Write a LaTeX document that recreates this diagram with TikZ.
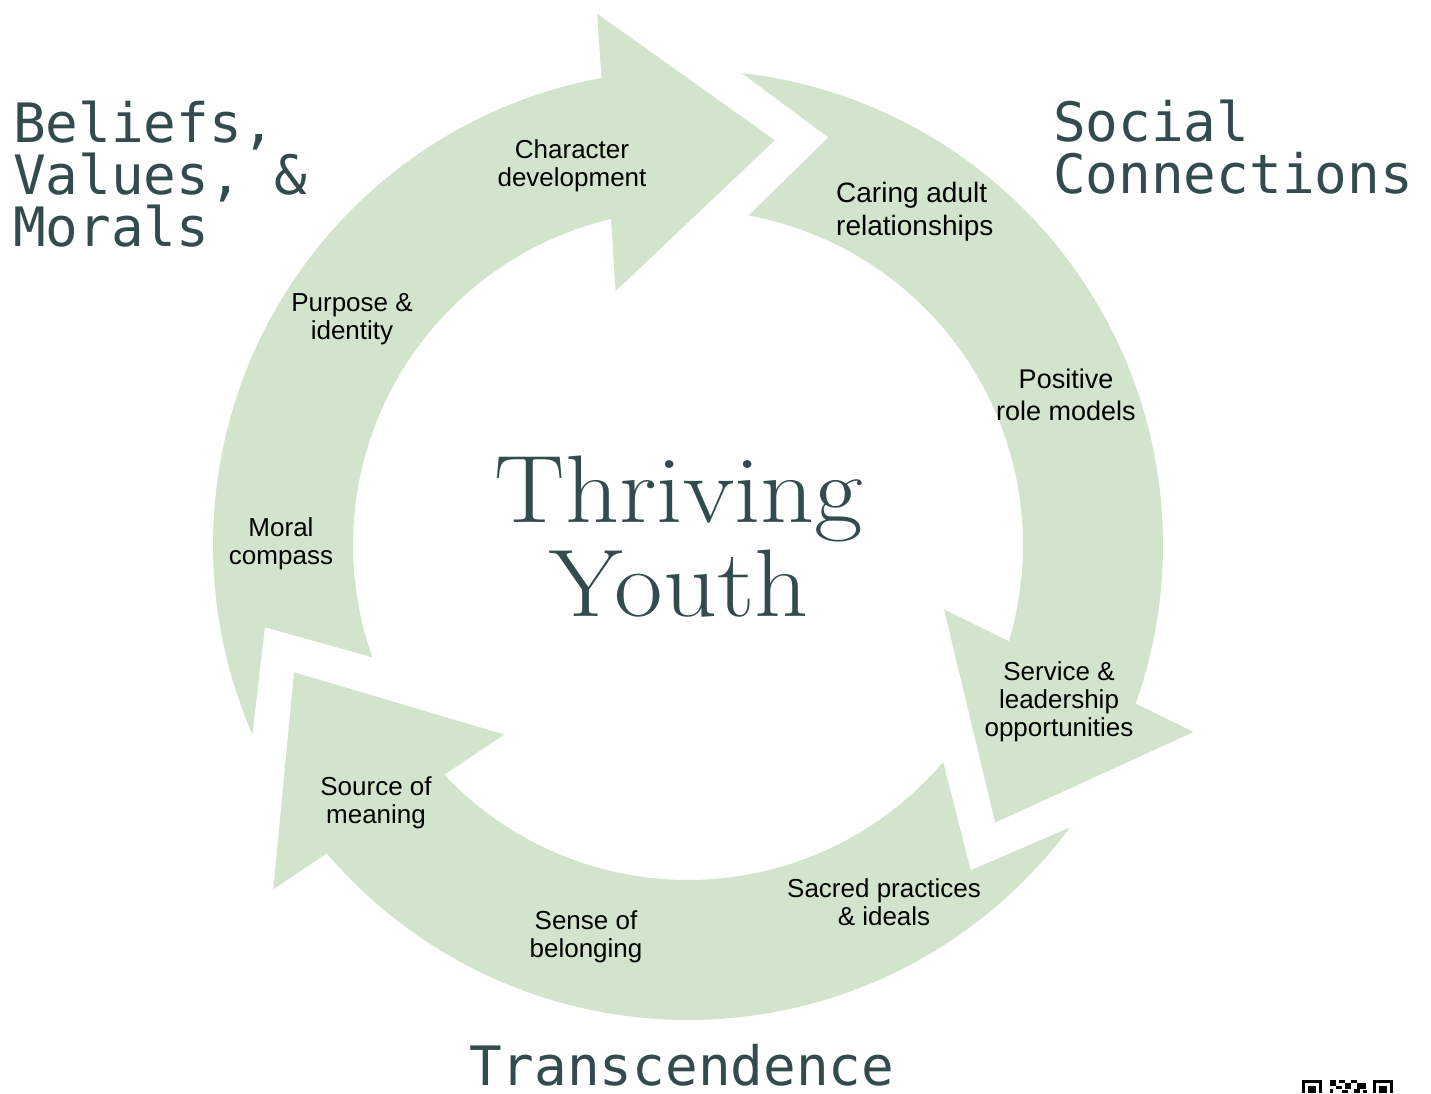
\documentclass[tikz,border=0pt]{standalone}
\usepackage{fontspec}
\setmainfont{Liberation Sans}
\newfontfamily\monofont{DejaVu Sans Mono}
\newfontfamily\displayfont{Latin Modern Roman}
\definecolor{leaf}{RGB}{211,228,204}
\definecolor{ink}{RGB}{50,76,78}
\tikzset{
  band/.style={fill=leaf},
  tag/.style={font=\fontsize{26}{28}\selectfont, text=black, align=center, inner sep=0pt},
  heading/.style={font=\monofont\fontsize{54.3}{52}\selectfont, text=ink, align=left, inner sep=0pt, anchor=south west},
  qr/.style={fill=black}
}
\begin{document}
\begin{tikzpicture}[x=1pt,y=1pt]
\useasboundingbox (0,0) rectangle (1431,1093);
\fill[white] (0,0) rectangle (1431,1093);

% three curved arrows
\begin{scope}[shift={(688,548)}]
  \foreach \r in {0,120,-120} {
    \fill[band, rotate=\r] (203.5:475) arc[start angle=203.5, end angle=100.5, radius=475]
      -- (99.7:539) -- (77.9:414) -- (105.9:264) -- (103.3:335)
      arc[start angle=103.3, end angle=199.6, radius=335] -- (191:431) -- cycle;
  }
\end{scope}

% headings
\node[heading] (beliefs) at (13,846) {Beliefs,\\Values, \&\\Morals};
\node[heading] (social) at (1053,899) {Social\\Connections};
\node[font=\monofont\fontsize{54.3}{52}\selectfont, text=ink, inner sep=0pt, text depth=0pt, anchor=base west] (transc) at (469,8) {Transcendence};

% centre
\node[font=\displayfont\fontsize{96}{94}\selectfont, text=ink, align=center, inner sep=0pt,
      anchor=south, xscale=1.1, transform shape] (core) at (679,476) {Thriving\\Youth};

% labels
\node[tag] (character) at (572,927) {Character\\development};
\node[tag, align=left, anchor=west, font=\fontsize{28}{33}\selectfont] (caring) at (836,881) {Caring adult\\relationships};
\node[tag] (purpose) at (352,773.5) {Purpose \&\\identity};
\node[tag, font=\fontsize{27}{32}\selectfont] (positive) at (1066,698.3) {Positive\\role models};
\node[tag] (moral) at (281,549.5) {Moral\\compass};
\node[tag] (service) at (1059,391.5) {Service \&\\leadership\\opportunities};
\node[tag] (source) at (376,290.5) {Source of\\meaning};
\node[tag] (sense) at (586,156.5) {Sense of\\belonging};
\node[tag] (sacred) at (884,190.3) {Sacred practices\\\& ideals};

% partial QR code at the bottom edge
\begin{scope}
  \fill[qr] (1302,0) rectangle (1322,13);
  \fill[white] (1305,0) rectangle (1319,10);
  \fill[qr] (1308,0) rectangle (1316,7);
  \fill[qr] (1373,0) rectangle (1393,13);
  \fill[white] (1376,0) rectangle (1390,10);
  \fill[qr] (1379,0) rectangle (1387,7);
  \fill[qr] (1330,7) rectangle (1336,13);
  \fill[qr] (1339,10) rectangle (1345,13);
  \fill[qr] (1336,4) rectangle (1342,7);
  \fill[qr] (1345,4) rectangle (1351,10);
  \fill[qr] (1351,10) rectangle (1357,13);
  \fill[qr] (1357,4) rectangle (1366,10);
  \fill[qr] (1330,0) rectangle (1333,4);
  \fill[qr] (1342,0) rectangle (1348,3);
  \fill[qr] (1354,0) rectangle (1360,4);
  \fill[qr] (1363,0) rectangle (1367,3);
\end{scope}
\end{tikzpicture}
\end{document}
